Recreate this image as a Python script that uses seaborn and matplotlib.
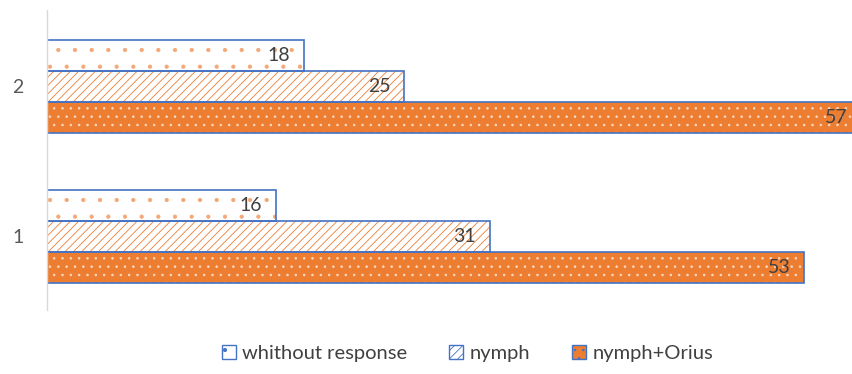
import pandas as pd
import numpy as np
import matplotlib.pyplot as plt
import seaborn as sns
from matplotlib.patches import Patch, Rectangle

# data
groups = ['2', '1']
series = ['whithout response', 'nymph', 'nymph+Orius']
without_response = [18, 16]
nymph = [25, 31]
nymph_orius = [57, 53]

ORANGE = '#ED7D31'
LIGHT_ORANGE = '#F4A878'
BLUE = '#4472C4'

df = pd.DataFrame({
    'group': groups * 3,
    'series': np.repeat(series, len(groups)),
    'value': without_response + nymph + nymph_orius,
})

sns.set_style('white')
plt.rcParams['font.family'] = ['Lato', 'DejaVu Sans']
plt.rcParams['hatch.linewidth'] = 0.6

fig = plt.figure(figsize=(8.53, 3.74), dpi=100)
ax = fig.add_axes([0.0551, 0.171, 0.9449, 0.802])

sns.barplot(data=df, y='group', x='value', hue='series', order=groups,
            hue_order=series, orient='h', width=0.62, legend=False, ax=ax)

# per-series fill style: (facecolor, hatch colour, hatch)
styles = {
    'whithout response': ('white', LIGHT_ORANGE, '.'),
    'nymph': ('white', ORANGE, '////'),
    'nymph+Orius': (ORANGE, '#FBD9C3', '..'),
}

bars = [p for p in ax.patches if isinstance(p, Rectangle)]
for i, bar in enumerate(bars):
    name = series[i // len(groups)]
    face, hcol, hatch = styles[name]
    bar.set_facecolor(face)
    bar.set_edgecolor(hcol)
    bar.set_hatch(hatch)
    bar.set_linewidth(0)
    # blue outline on top
    ax.add_patch(Rectangle(bar.get_xy(), bar.get_width(), bar.get_height(),
                           facecolor='none', edgecolor=BLUE, linewidth=1.2,
                           zorder=bar.get_zorder() + 0.1))

for cont in ax.containers:
    texts = ax.bar_label(cont, padding=-10, fontsize=14, color='#404040')
    for t in texts:
        t.set_ha('right')
        t.set_annotation_clip(False)
        t.set_zorder(5)

ax.set_xlim(0, 56.4)
ax.set_ylim(1.49, -0.507)
ax.set_xlabel('')
ax.set_ylabel('')
ax.set_xticks([])
ax.tick_params(axis='y', length=0, pad=17, labelsize=14, labelcolor='#595959')
for s in ['top', 'right', 'bottom']:
    ax.spines[s].set_visible(False)
ax.spines['left'].set_color('#D9D9D9')
ax.spines['left'].set_linewidth(1)

handles = []
for name in series:
    face, hcol, hatch = styles[name]
    handles.append(Patch(facecolor=face, edgecolor=BLUE, hatch=hatch, linewidth=1))
leg = fig.legend(handles, series, loc='center', bbox_to_anchor=(0.548, 0.056),
                 ncol=3, frameon=False, fontsize=14.5, handlelength=0.7,
                 handleheight=0.7, handletextpad=0.3, columnspacing=2.1)
for t in leg.get_texts():
    t.set_color('#404040')

fig.savefig('out.png', dpi=100)
